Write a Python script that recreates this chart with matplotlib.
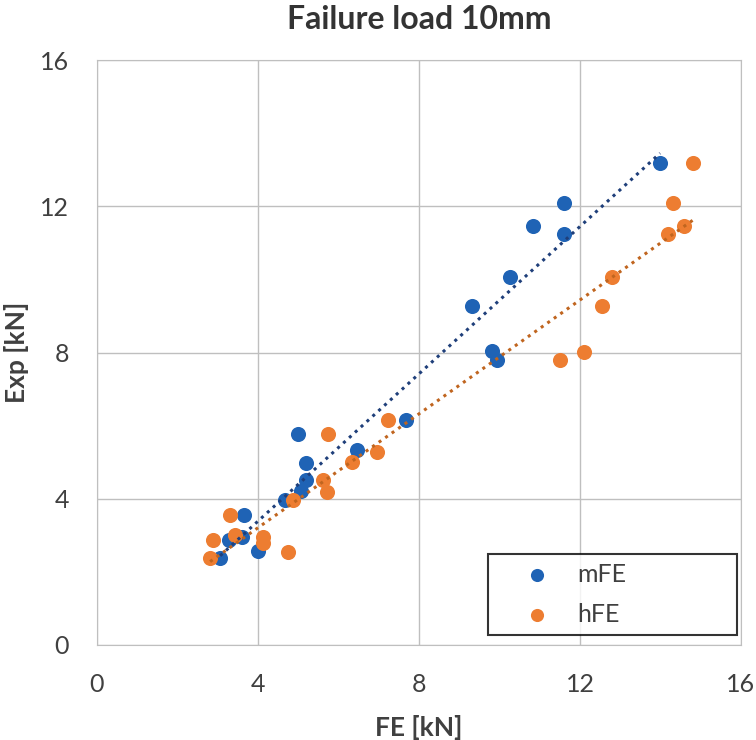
import numpy as np
import matplotlib
matplotlib.use("Agg")
import matplotlib.pyplot as plt

plt.rcParams['font.family'] = ['Lato', 'DejaVu Sans']

title = "Failure load 10mm"
xlabel = "FE [kN]"
ylabel = "Exp [kN]"
ticks = [0, 4, 8, 12, 16]

m_fe = [13.99, 11.60, 10.83, 11.60, 10.26, 9.32, 9.81, 9.94, 7.68, 4.99,
        6.46, 5.19, 5.19, 5.07, 4.67, 3.65, 3.60, 3.28, 4.00, 3.06]
m_exp = [13.18, 12.09, 11.46, 11.24, 10.07, 9.27, 8.03, 7.80, 6.15, 5.78,
         5.32, 4.98, 4.50, 4.22, 3.97, 3.56, 2.95, 2.88, 2.58, 2.38]

h_fe = [14.81, 14.31, 14.58, 14.19, 12.80, 12.55, 12.10, 11.50, 7.23, 5.74,
        6.96, 6.34, 5.62, 5.71, 4.87, 3.30, 3.43, 2.88, 4.12, 4.12, 4.75, 2.81]
h_exp = [13.18, 12.09, 11.46, 11.24, 10.07, 9.27, 8.01, 7.80, 6.15, 5.78,
         5.28, 5.00, 4.51, 4.18, 3.97, 3.56, 3.01, 2.87, 2.95, 2.79, 2.54, 2.38]

blue = '#1F63B5'
orange = '#ED7D31'

fig = plt.figure(figsize=(7.56, 7.40), dpi=100)
ax = fig.add_axes([97/756, 95/740, 644/756, 585/740])

ax.scatter(m_fe, m_exp, s=118, color=blue, zorder=3, label='mFE', linewidths=0)
ax.scatter(h_fe, h_exp, s=118, color=orange, zorder=3, label='hFE', linewidths=0)

for xs, ys, c in [(m_fe, m_exp, '#1F3F7A'), (h_fe, h_exp, '#C0651F')]:
    xs = np.array(xs); ys = np.array(ys)
    k, b = np.polyfit(xs, ys, 1)
    xx = np.array([xs.min(), xs.max()])
    ax.plot(xx, k * xx + b, linestyle=(0, (1, 1.6)), color=c, linewidth=2.2, zorder=4)

ax.set_xlim(0, 16)
ax.set_ylim(0, 16)
ax.set_xticks(ticks)
ax.set_yticks(ticks)
ax.grid(True, color='#BFBFBF', linewidth=1)
ax.set_axisbelow(True)
ax.tick_params(length=0, labelsize=18, labelcolor='#404040', pad=20)
for s in ax.spines.values():
    s.set_color('#BFBFBF')

ax.set_title(title, fontsize=23, fontweight='bold', color='#333333', pad=22)
ax.set_xlabel(xlabel, fontsize=19, fontweight='bold', color='#404040', labelpad=14)
ax.set_ylabel(ylabel, fontsize=19, fontweight='bold', color='#404040', labelpad=8)

x0 = (488 - 97) / 644
w = (737 - 488) / 644
ytop = (645 - 554) / 585
leg = ax.legend(loc='upper left', bbox_to_anchor=(x0, ytop - 0.2, w, 0.2), mode='expand',
                bbox_transform=ax.transAxes,
                fontsize=18, frameon=True, fancybox=False, edgecolor='black',
                markerscale=0.87, handletextpad=0.0, borderpad=0.36, labelspacing=0.67,
                handlelength=3.2, borderaxespad=0)
leg.get_frame().set_linewidth(1.5)
for t in leg.get_texts():
    t.set_color('#404040')

fig.savefig('out.png', dpi=100)
